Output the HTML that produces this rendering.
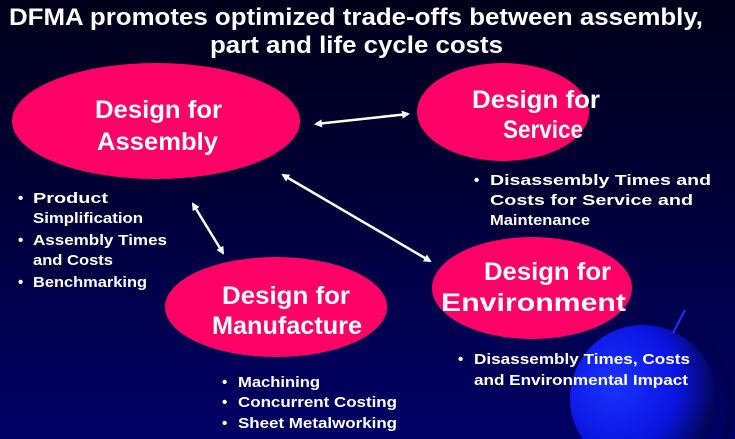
<!DOCTYPE html>
<html><head><meta charset="utf-8"><style>
html,body{margin:0;padding:0}
body{width:735px;height:439px;overflow:hidden;background:linear-gradient(#00001a 0%,#000033 40%,#000066 100%);font-family:"Liberation Sans",Arial,sans-serif;}
svg{display:block}
</style></head><body>
<svg width="735" height="439" xmlns="http://www.w3.org/2000/svg" style="position:absolute;left:0;top:0;overflow:hidden">
<defs>
<radialGradient id="g" cx="0.3" cy="0.4" r="0.8"><stop offset="0" stop-color="#1a33ff"/><stop offset="0.55" stop-color="#0a14e0"/><stop offset="1" stop-color="#000022"/></radialGradient>
<marker id="a" markerWidth="8" markerHeight="8" refX="6" refY="4" orient="auto-start-reverse" markerUnits="userSpaceOnUse"><path d="M0,0 L8,4 L0,8 Z" fill="#fff"/></marker>
</defs>
<circle cx="643" cy="398" r="73" fill="url(#g)"/>
<path d="M672,322 A90,90 0 0 1 725,439" stroke="#000050" stroke-width="8" fill="none"/>
<line x1="685" y1="310" x2="673" y2="333" stroke="#2233ff" stroke-width="2"/>
<g font-weight="bold" fill="#fff" font-size="24">
<text x="9" y="25" textLength="694" lengthAdjust="spacingAndGlyphs">DFMA promotes optimized trade-offs between assembly,</text>
<text x="210" y="53" textLength="293" lengthAdjust="spacingAndGlyphs">part and life cycle costs</text>
</g>
<ellipse cx="156" cy="121" rx="144" ry="58" fill="#ff0066"/>
<ellipse cx="503" cy="112" rx="86" ry="49" fill="#ff0066"/>
<ellipse cx="532" cy="288" rx="100" ry="51" fill="#ff0066"/>
<ellipse cx="276" cy="307" rx="111" ry="50" fill="#ff0066"/>
<g stroke="#fff" stroke-width="2.5" marker-start="url(#a)" marker-end="url(#a)">
<line x1="316" y1="124" x2="408" y2="114"/>
<line x1="193" y1="204" x2="223" y2="253"/>
<line x1="283" y1="175" x2="430" y2="261"/>
</g>
<g font-weight="bold" fill="#fff" font-size="25">
<text x="95" y="118" textLength="127" lengthAdjust="spacingAndGlyphs">Design for</text>
<text x="97" y="150" textLength="121" lengthAdjust="spacingAndGlyphs">Assembly</text>
<text x="472" y="108" textLength="128" lengthAdjust="spacingAndGlyphs">Design for</text>
<text x="503" y="138" textLength="80" lengthAdjust="spacingAndGlyphs">Service</text>
<text x="484" y="280" textLength="127" lengthAdjust="spacingAndGlyphs">Design for</text>
<text x="441" y="311" textLength="185" lengthAdjust="spacingAndGlyphs">Environment</text>
<text x="222" y="304" textLength="128" lengthAdjust="spacingAndGlyphs">Design for</text>
<text x="212" y="334" textLength="150" lengthAdjust="spacingAndGlyphs">Manufacture</text>
</g>
<g font-weight="bold" fill="#fff" font-size="15">
<text x="18" y="203">•</text><text x="33" y="203" textLength="75" lengthAdjust="spacingAndGlyphs">Product</text>
<text x="33" y="223" textLength="110" lengthAdjust="spacingAndGlyphs">Simplification</text>
<text x="18" y="245">•</text><text x="33" y="245" textLength="134" lengthAdjust="spacingAndGlyphs">Assembly Times</text>
<text x="33" y="265" textLength="80" lengthAdjust="spacingAndGlyphs">and Costs</text>
<text x="18" y="287">•</text><text x="33" y="287" textLength="114" lengthAdjust="spacingAndGlyphs">Benchmarking</text>
<text x="474" y="185">•</text><text x="490" y="185" textLength="221" lengthAdjust="spacingAndGlyphs">Disassembly  Times and</text>
<text x="490" y="205" textLength="203" lengthAdjust="spacingAndGlyphs">Costs for Service and</text>
<text x="490" y="225" textLength="100" lengthAdjust="spacingAndGlyphs">Maintenance</text>
<text x="458" y="364">•</text><text x="474" y="364" textLength="216" lengthAdjust="spacingAndGlyphs">Disassembly  Times, Costs</text>
<text x="474" y="385" textLength="214" lengthAdjust="spacingAndGlyphs">and Environmental  Impact</text>
<text x="222" y="387">•</text><text x="238" y="387" textLength="82" lengthAdjust="spacingAndGlyphs">Machining</text>
<text x="222" y="407">•</text><text x="238" y="407" textLength="159" lengthAdjust="spacingAndGlyphs">Concurrent Costing</text>
<text x="222" y="428">•</text><text x="238" y="428" textLength="159" lengthAdjust="spacingAndGlyphs">Sheet Metalworking</text>
</g>
</svg>
</body></html>
